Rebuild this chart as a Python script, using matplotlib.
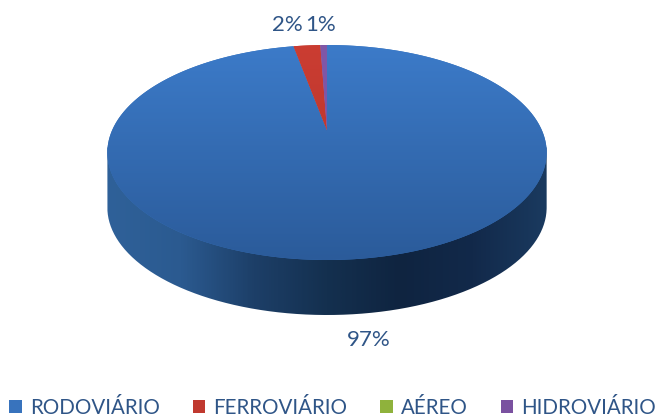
import numpy as np
import matplotlib
matplotlib.use("Agg")
import matplotlib.pyplot as plt
from matplotlib.colors import LinearSegmentedColormap
from matplotlib.patches import Patch, PathPatch
from matplotlib.path import Path
from matplotlib.transforms import Transform

categories = ["RODOVIÁRIO", "FERROVIÁRIO", "AÉREO", "HIDROVIÁRIO"]
values = [97.0, 2.4, 0.0, 0.6]
colors = ["#3873bd", "#c0392f", "#8fb23c", "#7a51a0"]
text_color = "#2f5587"

W, H = 657, 419
CX, CY = 327.0, 152.5      # middle of the top ellipse, pixels
A, B, C, K = 215.0, 107.5, 22.0, -0.2047   # perspective of the disc
DEPTH = 55.0

plt.rcParams["font.family"] = ["Lato", "DejaVu Sans"]


class Perspective(Transform):
    """Unit-circle pie -> tilted disc, in pixel-like data units."""
    input_dims = output_dims = 2

    def transform_non_affine(self, xy):
        xy = np.asarray(xy, float)
        d = 1 - K * xy[:, 1]
        return np.column_stack([CX + A * xy[:, 0] / d,
                                CY - (B * xy[:, 1] + C) / d])

    def transform_path_non_affine(self, path):
        # flatten the Bezier arcs first, so that the rim stays smooth
        pts = []
        for curve, code in path.iter_bezier():
            if code == Path.MOVETO:
                pts.append(curve(np.array([0.0])))
            else:
                pts.append(curve(np.linspace(0, 1, 40)[1:]))
        return Path(self.transform_non_affine(np.vstack(pts)))


fig = plt.figure(figsize=(W / 100, H / 100), dpi=100)
ax = fig.add_axes([0, 0, 1, 1])

wedges, _ = ax.pie(values, colors=colors, startangle=90, counterclock=False)
persp = Perspective()

# rim of the disc
t = np.linspace(0, 2 * np.pi, 721)
rim = persp.transform_non_affine(np.column_stack([np.cos(t), np.sin(t)]))
left, right = rim[:, 0].min(), rim[:, 0].max()
lower = rim[rim[:, 1] >= CY]
lower = lower[np.argsort(lower[:, 0])]

# side wall: lower rim swept down, shaded from left to right
wall_path = Path(np.vstack([[left, CY - 5], [left, CY], lower + [0, DEPTH],
                            [right, CY], [right, CY - 5], [left, CY - 5]]))
wall_cmap = LinearSegmentedColormap.from_list(
    "wall", ["#2f6199", "#2b5a90", "#1d3f68", "#14304f", "#0f2440", "#12294a", "#1a3a5f"])
im = ax.imshow(np.linspace(0, 1, 441)[None, :], cmap=wall_cmap, aspect="auto",
               extent=(left, right, 320, 100), zorder=1)
clip = PathPatch(wall_path, transform=ax.transData, fc="none", ec="none")
ax.add_patch(clip)
im.set_clip_path(clip)

# top surface
top_cmap = {0: ["#3c7bc9", "#2b5b9a"], 1: ["#cb3d32", "#b03229"],
            2: ["#8fb23c", "#8fb23c"], 3: ["#8058a8", "#7a51a0"]}
for i, w in enumerate(wedges):
    w.set_transform(persp + ax.transData)
    w.set_zorder(2)
    w.set_linewidth(0)
    cm = LinearSegmentedColormap.from_list(f"t{i}", top_cmap[i])
    g = ax.imshow(np.linspace(0, 1, 216)[:, None], cmap=cm, aspect="auto",
                  extent=(left, right, 261, 45), zorder=3)
    g.set_clip_path(w)
    if values[i] == 0:
        g.set_visible(False)

ax.set_xlim(0, W)
ax.set_ylim(H, 0)
ax.set_aspect("auto")
ax.axis("off")

# value labels
label_pos = {0: (369, 340), 1: (287, 25), 3: (321, 25)}
for i, (x, y) in label_pos.items():
    ax.text(x, y, f"{round(values[i])}%", color=text_color, fontsize=16,
            ha="center", va="center", zorder=5)

handles = [Patch(facecolor=c, edgecolor="none", label=n) for c, n in zip(colors, categories)]
ax.legend(handles=handles, ncol=4, frameon=False, loc="lower left",
          bbox_to_anchor=(9 / W, 1 / H), bbox_transform=ax.transAxes,
          fontsize=14.8, labelcolor=text_color, handlelength=0.62, handleheight=0.62,
          handletextpad=0.39, columnspacing=1.6, borderpad=0, borderaxespad=0)

fig.savefig("out.png", dpi=100)
